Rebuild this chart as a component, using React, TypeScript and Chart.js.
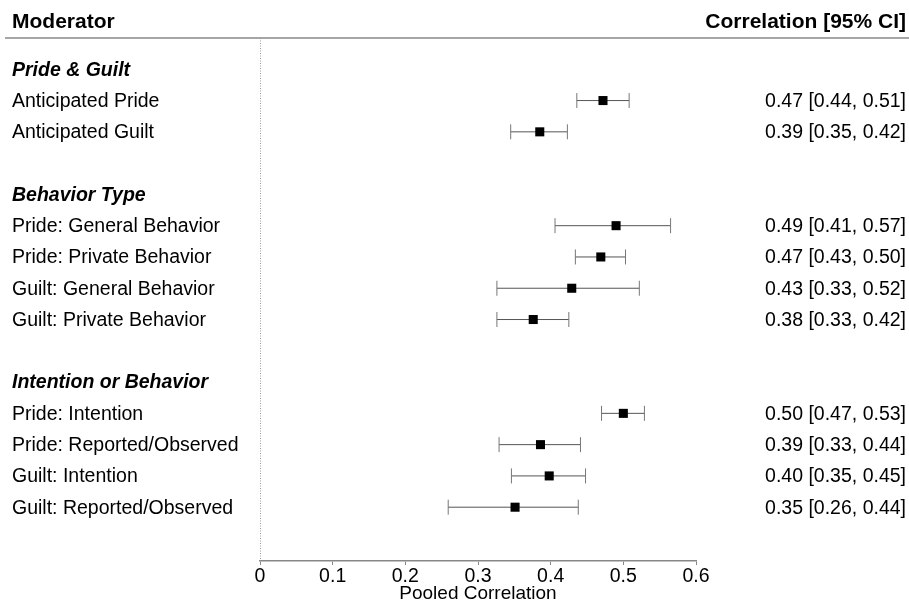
import React, { useEffect, useRef } from "react";
import { Chart, registerables } from "chart.js";

Chart.register(...registerables);

const groups = ["Pride & Guilt", "Behavior Type", "Intention or Behavior"];
const moderators = [
  "Anticipated Pride",
  "Anticipated Guilt",
  "Pride: General Behavior",
  "Pride: Private Behavior",
  "Guilt: General Behavior",
  "Guilt: Private Behavior",
  "Pride: Intention",
  "Pride: Reported/Observed",
  "Guilt: Intention",
  "Guilt: Reported/Observed",
];
const groupOf = [0, 0, 1, 1, 1, 1, 2, 2, 2, 2];
const estimates = [0.472, 0.385, 0.49, 0.469, 0.429, 0.376, 0.5, 0.386, 0.398, 0.351];
const lowers = [0.436, 0.345, 0.406, 0.434, 0.326, 0.326, 0.47, 0.329, 0.346, 0.259];
const uppers = [0.508, 0.423, 0.565, 0.503, 0.522, 0.425, 0.529, 0.441, 0.448, 0.438];
const ciLabels = [
  "0.47 [0.44, 0.51]",
  "0.39 [0.35, 0.42]",
  "0.49 [0.41, 0.57]",
  "0.47 [0.43, 0.50]",
  "0.43 [0.33, 0.52]",
  "0.38 [0.33, 0.42]",
  "0.50 [0.47, 0.53]",
  "0.39 [0.33, 0.44]",
  "0.40 [0.35, 0.45]",
  "0.35 [0.26, 0.44]",
];
const xTickLabels = ["0", "0.1", "0.2", "0.3", "0.4", "0.5", "0.6"];
const headerLeft = "Moderator";
const headerRight = "Correlation [95% CI]";
const xTitle = "Pooled Correlation";

const FONT = "'Liberation Sans', Arial, sans-serif";

// row layout: group header, its items, one blank row
const groupRow: number[] = [];
const itemRow: number[] = [];
(() => {
  let r = 0;
  groups.forEach((_, g) => {
    groupRow[g] = r++;
    moderators.forEach((_, i) => {
      if (groupOf[i] === g) itemRow[i] = r++;
    });
    r++;
  });
})();

const forestPlugin = {
  id: "forest",
  beforeDatasetsDraw(chart: any) {
    const { ctx, chartArea, scales } = chart;
    const xs = scales.x;
    const ys = scales.y;
    ctx.save();
    // dotted zero line
    ctx.strokeStyle = "#9a9a9a";
    ctx.lineWidth = 1;
    ctx.setLineDash([1, 1.5]);
    const x0 = Math.round(xs.getPixelForValue(0)) + 0.5;
    ctx.beginPath();
    ctx.moveTo(x0, chartArea.top);
    ctx.lineTo(x0, chartArea.bottom);
    ctx.stroke();
    ctx.setLineDash([]);
    // error bars
    moderators.forEach((_, i) => {
      const y = ys.getPixelForValue(itemRow[i]);
      const xl = xs.getPixelForValue(lowers[i]);
      const xu = xs.getPixelForValue(uppers[i]);
      ctx.strokeStyle = "#555";
      ctx.lineWidth = 1;
      ctx.beginPath();
      ctx.moveTo(xl, y);
      ctx.lineTo(xu, y);
      ctx.stroke();
      ctx.strokeStyle = "#777";
      ctx.beginPath();
      ctx.moveTo(xl, y - 7.5);
      ctx.lineTo(xl, y + 7.5);
      ctx.moveTo(xu, y - 7.5);
      ctx.lineTo(xu, y + 7.5);
      ctx.stroke();
    });
    ctx.restore();
  },
  afterDraw(chart: any) {
    const { ctx, scales, width } = chart;
    const ys = scales.y;
    ctx.save();
    ctx.fillStyle = "#000";
    ctx.textBaseline = "middle";
    // header
    ctx.font = `bold 21px ${FONT}`;
    ctx.textAlign = "left";
    ctx.fillText(headerLeft, 12, 22);
    ctx.textAlign = "right";
    ctx.fillText(headerRight, 906, 22);
    ctx.strokeStyle = "#888";
    ctx.lineWidth = 1.5;
    ctx.beginPath();
    ctx.moveTo(5, 38);
    ctx.lineTo(width, 38);
    ctx.stroke();
    // group labels
    ctx.textAlign = "left";
    ctx.font = `italic bold 19.5px ${FONT}`;
    groups.forEach((g, k) => {
      ctx.fillText(g, 12, ys.getPixelForValue(groupRow[k]) + 1);
    });
    // moderator labels and CI text
    ctx.font = `19.5px ${FONT}`;
    moderators.forEach((m, i) => {
      const y = ys.getPixelForValue(itemRow[i]) + 1;
      ctx.textAlign = "left";
      ctx.fillText(m, 12, y);
      ctx.textAlign = "right";
      ctx.fillText(ciLabels[i], 906, y);
    });
    ctx.restore();
  },
};

export default function App() {
  const ref = useRef<HTMLCanvasElement | null>(null);
  useEffect(() => {
    if (!ref.current) return;
    const chart = new Chart(ref.current, {
      type: "scatter",
      data: {
        datasets: [
          {
            data: estimates.map((e, i) => ({ x: e, y: itemRow[i] })),
            pointStyle: "rect",
            pointRadius: 6.4,
            backgroundColor: "#000",
            borderColor: "#000",
            borderWidth: 0,
          },
        ],
      },
      options: {
        animation: false,
        responsive: true,
        maintainAspectRatio: false,
        layout: { padding: { left: 260, right: 213, top: 38, bottom: 0 } },
        plugins: { legend: { display: false }, tooltip: { enabled: false } },
        scales: {
          x: {
            type: "linear",
            min: 0,
            max: 0.6,
            afterFit: (s: any) => {
              s.height = 43;
            },
            ticks: {
              stepSize: 0.1,
              color: "#000",
              padding: 0,
              font: { family: FONT, size: 19.5 },
              callback: (_v: any, idx: number) => xTickLabels[idx],
            },
            grid: {
              display: true,
              drawOnChartArea: false,
              drawTicks: true,
              tickLength: 4,
              color: "#888",
            },
            border: { display: true, color: "#888", width: 1.5 },
            title: {
              display: true,
              text: xTitle,
              color: "#000",
              font: { family: FONT, size: 19 },
              padding: { top: 0, bottom: -1 },
            },
          },
          y: {
            type: "linear",
            display: false,
            reverse: true,
            min: -1,
            max: 15.72,
          },
        },
      },
      plugins: [forestPlugin],
    });
    return () => chart.destroy();
  }, []);
  return (
    <div style={{ position: "fixed", left: 0, top: 0, width: 909, height: 604, background: "#fff" }}>
      <canvas ref={ref} />
    </div>
  );
}
